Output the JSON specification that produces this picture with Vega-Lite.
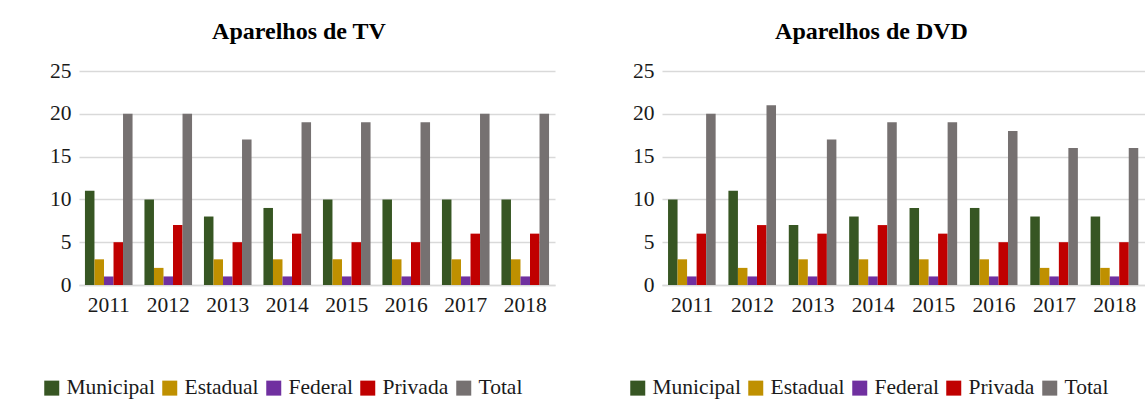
{
  "$schema": "https://vega.github.io/schema/vega-lite/v6.json",
  "padding": {"left": 41, "top": 20, "right": 0, "bottom": 0},
  "background": "white",
  "config": {
    "font": "Liberation Serif",
    "view": {"stroke": null},
    "concat": {"spacing": 72},
    "axis": {"labelFont": "Liberation Serif", "labelColor": "#1a1a1a", "titleFont": "Liberation Serif"},
    "legend": {"labelFont": "Liberation Serif"},
    "style": {"guide-label": {"font": "Liberation Serif"}}
  },
  "data": {"values": [
    {"panel": "TV", "year": "2011", "cat": "Municipal", "value": 11},
    {"panel": "TV", "year": "2012", "cat": "Municipal", "value": 10},
    {"panel": "TV", "year": "2013", "cat": "Municipal", "value": 8},
    {"panel": "TV", "year": "2014", "cat": "Municipal", "value": 9},
    {"panel": "TV", "year": "2015", "cat": "Municipal", "value": 10},
    {"panel": "TV", "year": "2016", "cat": "Municipal", "value": 10},
    {"panel": "TV", "year": "2017", "cat": "Municipal", "value": 10},
    {"panel": "TV", "year": "2018", "cat": "Municipal", "value": 10},
    {"panel": "TV", "year": "2011", "cat": "Estadual", "value": 3},
    {"panel": "TV", "year": "2012", "cat": "Estadual", "value": 2},
    {"panel": "TV", "year": "2013", "cat": "Estadual", "value": 3},
    {"panel": "TV", "year": "2014", "cat": "Estadual", "value": 3},
    {"panel": "TV", "year": "2015", "cat": "Estadual", "value": 3},
    {"panel": "TV", "year": "2016", "cat": "Estadual", "value": 3},
    {"panel": "TV", "year": "2017", "cat": "Estadual", "value": 3},
    {"panel": "TV", "year": "2018", "cat": "Estadual", "value": 3},
    {"panel": "TV", "year": "2011", "cat": "Federal", "value": 1},
    {"panel": "TV", "year": "2012", "cat": "Federal", "value": 1},
    {"panel": "TV", "year": "2013", "cat": "Federal", "value": 1},
    {"panel": "TV", "year": "2014", "cat": "Federal", "value": 1},
    {"panel": "TV", "year": "2015", "cat": "Federal", "value": 1},
    {"panel": "TV", "year": "2016", "cat": "Federal", "value": 1},
    {"panel": "TV", "year": "2017", "cat": "Federal", "value": 1},
    {"panel": "TV", "year": "2018", "cat": "Federal", "value": 1},
    {"panel": "TV", "year": "2011", "cat": "Privada", "value": 5},
    {"panel": "TV", "year": "2012", "cat": "Privada", "value": 7},
    {"panel": "TV", "year": "2013", "cat": "Privada", "value": 5},
    {"panel": "TV", "year": "2014", "cat": "Privada", "value": 6},
    {"panel": "TV", "year": "2015", "cat": "Privada", "value": 5},
    {"panel": "TV", "year": "2016", "cat": "Privada", "value": 5},
    {"panel": "TV", "year": "2017", "cat": "Privada", "value": 6},
    {"panel": "TV", "year": "2018", "cat": "Privada", "value": 6},
    {"panel": "TV", "year": "2011", "cat": "Total", "value": 20},
    {"panel": "TV", "year": "2012", "cat": "Total", "value": 20},
    {"panel": "TV", "year": "2013", "cat": "Total", "value": 17},
    {"panel": "TV", "year": "2014", "cat": "Total", "value": 19},
    {"panel": "TV", "year": "2015", "cat": "Total", "value": 19},
    {"panel": "TV", "year": "2016", "cat": "Total", "value": 19},
    {"panel": "TV", "year": "2017", "cat": "Total", "value": 20},
    {"panel": "TV", "year": "2018", "cat": "Total", "value": 20},
    {"panel": "DVD", "year": "2011", "cat": "Municipal", "value": 10},
    {"panel": "DVD", "year": "2012", "cat": "Municipal", "value": 11},
    {"panel": "DVD", "year": "2013", "cat": "Municipal", "value": 7},
    {"panel": "DVD", "year": "2014", "cat": "Municipal", "value": 8},
    {"panel": "DVD", "year": "2015", "cat": "Municipal", "value": 9},
    {"panel": "DVD", "year": "2016", "cat": "Municipal", "value": 9},
    {"panel": "DVD", "year": "2017", "cat": "Municipal", "value": 8},
    {"panel": "DVD", "year": "2018", "cat": "Municipal", "value": 8},
    {"panel": "DVD", "year": "2011", "cat": "Estadual", "value": 3},
    {"panel": "DVD", "year": "2012", "cat": "Estadual", "value": 2},
    {"panel": "DVD", "year": "2013", "cat": "Estadual", "value": 3},
    {"panel": "DVD", "year": "2014", "cat": "Estadual", "value": 3},
    {"panel": "DVD", "year": "2015", "cat": "Estadual", "value": 3},
    {"panel": "DVD", "year": "2016", "cat": "Estadual", "value": 3},
    {"panel": "DVD", "year": "2017", "cat": "Estadual", "value": 2},
    {"panel": "DVD", "year": "2018", "cat": "Estadual", "value": 2},
    {"panel": "DVD", "year": "2011", "cat": "Federal", "value": 1},
    {"panel": "DVD", "year": "2012", "cat": "Federal", "value": 1},
    {"panel": "DVD", "year": "2013", "cat": "Federal", "value": 1},
    {"panel": "DVD", "year": "2014", "cat": "Federal", "value": 1},
    {"panel": "DVD", "year": "2015", "cat": "Federal", "value": 1},
    {"panel": "DVD", "year": "2016", "cat": "Federal", "value": 1},
    {"panel": "DVD", "year": "2017", "cat": "Federal", "value": 1},
    {"panel": "DVD", "year": "2018", "cat": "Federal", "value": 1},
    {"panel": "DVD", "year": "2011", "cat": "Privada", "value": 6},
    {"panel": "DVD", "year": "2012", "cat": "Privada", "value": 7},
    {"panel": "DVD", "year": "2013", "cat": "Privada", "value": 6},
    {"panel": "DVD", "year": "2014", "cat": "Privada", "value": 7},
    {"panel": "DVD", "year": "2015", "cat": "Privada", "value": 6},
    {"panel": "DVD", "year": "2016", "cat": "Privada", "value": 5},
    {"panel": "DVD", "year": "2017", "cat": "Privada", "value": 5},
    {"panel": "DVD", "year": "2018", "cat": "Privada", "value": 5},
    {"panel": "DVD", "year": "2011", "cat": "Total", "value": 20},
    {"panel": "DVD", "year": "2012", "cat": "Total", "value": 21},
    {"panel": "DVD", "year": "2013", "cat": "Total", "value": 17},
    {"panel": "DVD", "year": "2014", "cat": "Total", "value": 19},
    {"panel": "DVD", "year": "2015", "cat": "Total", "value": 19},
    {"panel": "DVD", "year": "2016", "cat": "Total", "value": 18},
    {"panel": "DVD", "year": "2017", "cat": "Total", "value": 16},
    {"panel": "DVD", "year": "2018", "cat": "Total", "value": 16}
  ]},
  "resolve": {"scale": {"color": "independent"}, "legend": {"color": "independent"}},
  "hconcat": [
    {
      "width": 476,
      "height": 214,
      "title": {"text": "Aparelhos de TV", "fontSize": 24, "fontWeight": "bold", "font": "Liberation Serif", "color": "#000000", "offset": 16, "dx": -18},
      "transform": [{"filter": "datum.panel === 'TV'"}],
      "mark": {"type": "bar"},
      "encoding": {
        "x": {"field": "year", "type": "nominal", "scale": {"paddingInner": 0.2, "paddingOuter": 0.1},
              "axis": {"title": null, "labelAngle": 0, "labelFontSize": 21.5, "labelFont": "Liberation Serif", "ticks": false, "domainColor": "#d9d9d9", "domainWidth": 1.5, "labelPadding": 9}},
        "xOffset": {"field": "cat", "type": "nominal", "sort": ["Municipal", "Estadual", "Federal", "Privada", "Total"]},
        "y": {"field": "value", "type": "quantitative", "scale": {"domain": [0, 25]},
              "axis": {"title": null, "values": [0, 5, 10, 15, 20, 25], "labelFontSize": 21.5, "labelFont": "Liberation Serif", "ticks": false, "domain": false, "gridColor": "#d9d9d9", "gridWidth": 1.5, "labelPadding": 8}},
        "color": {"field": "cat", "type": "nominal", "sort": ["Municipal", "Estadual", "Federal", "Privada", "Total"],
                  "scale": {"domain": ["Municipal", "Estadual", "Federal", "Privada", "Total"], "range": ["#375623", "#BF9000", "#7030A0", "#C00000", "#767171"]},
                  "legend": {"title": null, "orient": "none", "legendX": -38, "legendY": 306, "direction": "horizontal", "symbolType": "square", "symbolSize": 225, "symbolStrokeWidth": 0, "symbolOpacity": 1, "labelFont": "Liberation Serif", "labelFontSize": 21.5, "labelColor": "#1a1a1a", "columnPadding": 4, "labelOffset": 4}}
      }
    },
    {
      "width": 483,
      "height": 214,
      "title": {"text": "Aparelhos de DVD", "fontSize": 24, "fontWeight": "bold", "font": "Liberation Serif", "color": "#000000", "offset": 16, "dx": -32},
      "transform": [{"filter": "datum.panel === 'DVD'"}],
      "mark": {"type": "bar"},
      "encoding": {
        "x": {"field": "year", "type": "nominal", "scale": {"paddingInner": 0.2, "paddingOuter": 0.1},
              "axis": {"title": null, "labelAngle": 0, "labelFontSize": 21.5, "labelFont": "Liberation Serif", "ticks": false, "domainColor": "#d9d9d9", "domainWidth": 1.5, "labelPadding": 9}},
        "xOffset": {"field": "cat", "type": "nominal", "sort": ["Municipal", "Estadual", "Federal", "Privada", "Total"]},
        "y": {"field": "value", "type": "quantitative", "scale": {"domain": [0, 25]},
              "axis": {"title": null, "values": [0, 5, 10, 15, 20, 25], "labelFontSize": 21.5, "labelFont": "Liberation Serif", "ticks": false, "domain": false, "gridColor": "#d9d9d9", "gridWidth": 1.5, "labelPadding": 8}},
        "color": {"field": "cat", "type": "nominal", "sort": ["Municipal", "Estadual", "Federal", "Privada", "Total"],
                  "scale": {"domain": ["Municipal", "Estadual", "Federal", "Privada", "Total"], "range": ["#375623", "#BF9000", "#7030A0", "#C00000", "#767171"]},
                  "legend": {"title": null, "orient": "none", "legendX": -35, "legendY": 306, "direction": "horizontal", "symbolType": "square", "symbolSize": 225, "symbolStrokeWidth": 0, "symbolOpacity": 1, "labelFont": "Liberation Serif", "labelFontSize": 21.5, "labelColor": "#1a1a1a", "columnPadding": 4, "labelOffset": 4}}
      }
    }
  ]
}
